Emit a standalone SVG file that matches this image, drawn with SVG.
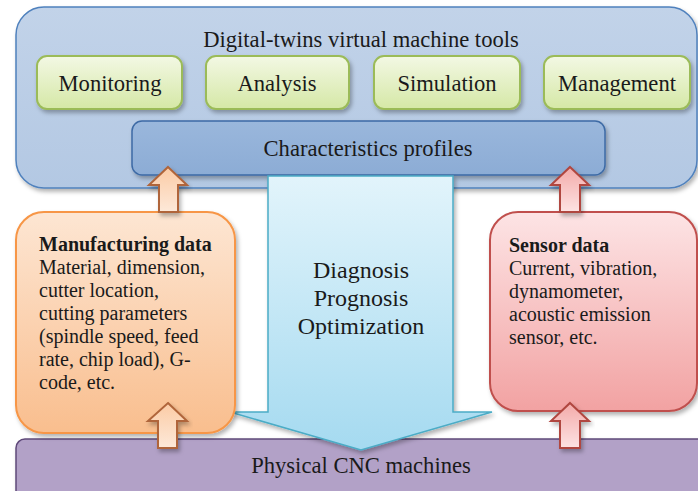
<svg xmlns="http://www.w3.org/2000/svg" width="698" height="491" viewBox="0 0 698 491">
<defs>
<style>
text{font-family:"Liberation Serif","Times New Roman",serif;fill:#1a1a1a}
.t{font-size:22.6px}
.b{font-size:20px}
.bold{font-weight:bold}
.green{fill:url(#gGreen);stroke:#9bbb59;stroke-width:2}
.uparO{fill:url(#gArrO);stroke:#b0653a;stroke-width:2;stroke-linejoin:miter}
.uparR{fill:url(#gArrR);stroke:#b0463f;stroke-width:2;stroke-linejoin:miter}
</style>
<filter id="sh" x="-10%" y="-10%" width="125%" height="130%">
<feDropShadow dx="2" dy="3" stdDeviation="2" flood-color="#000" flood-opacity="0.3"/>
</filter>
<linearGradient id="gTop" x1="0" y1="0" x2="0" y2="1"><stop offset="0" stop-color="#c2d3e9"/><stop offset="1" stop-color="#b3c8e3"/></linearGradient>
<linearGradient id="gGreen" x1="0" y1="0" x2="0" y2="1"><stop offset="0" stop-color="#f3f8e4"/><stop offset="1" stop-color="#d5e8a6"/></linearGradient>
<linearGradient id="gChar" x1="0" y1="0" x2="0" y2="1"><stop offset="0" stop-color="#9ab7dc"/><stop offset="1" stop-color="#8cacd5"/></linearGradient>
<linearGradient id="gBig" x1="0" y1="0" x2="0" y2="1"><stop offset="0" stop-color="#e2f4fb"/><stop offset="1" stop-color="#a5daf0"/></linearGradient>
<linearGradient id="gOr" x1="0" y1="0" x2="0" y2="1"><stop offset="0" stop-color="#fde6d3"/><stop offset="1" stop-color="#f9be8e"/></linearGradient>
<linearGradient id="gRed" x1="0" y1="0" x2="0" y2="1"><stop offset="0" stop-color="#fde4e5"/><stop offset="1" stop-color="#f2a2a2"/></linearGradient>
<linearGradient id="gArrO" x1="0" y1="0" x2="0" y2="1"><stop offset="0" stop-color="#fbcba5"/><stop offset="1" stop-color="#fde9d9"/></linearGradient>
<linearGradient id="gArrR" x1="0" y1="0" x2="0" y2="1"><stop offset="0" stop-color="#f3aaa9"/><stop offset="1" stop-color="#fde3e3"/></linearGradient>
</defs>
<rect width="698" height="491" fill="#ffffff"/>

<g id="purple-bar">
<rect x="16" y="439" width="700" height="70" rx="9" fill="#b2a1c7" stroke="#5f497a" stroke-width="1.5" filter="url(#sh)"/>
<text class="t" x="361" y="473" text-anchor="middle">Physical CNC machines</text>
</g>

<g id="top-container">
<rect x="16" y="7" width="681" height="181" rx="28" fill="url(#gTop)" stroke="#4f81bd" stroke-width="1.5" filter="url(#sh)"/>
<text class="t" x="361" y="47" text-anchor="middle">Digital-twins virtual machine tools</text>
</g>

<g id="monitoring">
<rect class="green" x="37" y="56" width="145" height="53" rx="10" filter="url(#sh)"/>
<text class="t" x="110" y="91" text-anchor="middle">Monitoring</text>
</g>
<g id="analysis">
<rect class="green" x="206" y="56" width="143" height="53" rx="10" filter="url(#sh)"/>
<text class="t" x="277" y="91" text-anchor="middle">Analysis</text>
</g>
<g id="simulation">
<rect class="green" x="374" y="56" width="146" height="53" rx="10" filter="url(#sh)"/>
<text class="t" x="447" y="91" text-anchor="middle">Simulation</text>
</g>
<g id="management">
<rect class="green" x="544" y="56" width="146" height="53" rx="10" filter="url(#sh)"/>
<text class="t" x="617" y="91" text-anchor="middle">Management</text>
</g>

<g id="characteristics">
<rect x="132" y="121" width="473" height="54" rx="10" fill="url(#gChar)" stroke="#3d6aa5" stroke-width="1.5" filter="url(#sh)"/>
<text class="t" x="368" y="156" text-anchor="middle">Characteristics profiles</text>
</g>

<g id="big-arrow">
<path d="M268,176 L453,176 L453,412 L492,412 L361,450 L230,412 L268,412 Z" fill="url(#gBig)" stroke="#4bacc6" stroke-width="1.5" filter="url(#sh)"/>
<text x="361" y="278" font-size="24" text-anchor="middle">Diagnosis</text>
<text x="361" y="306" font-size="24" text-anchor="middle">Prognosis</text>
<text x="361" y="334" font-size="24" text-anchor="middle">Optimization</text>
</g>

<g id="manufacturing-data">
<rect x="16" y="212" width="219" height="221" rx="28" fill="url(#gOr)" stroke="#f79646" stroke-width="2" filter="url(#sh)"/>
<text class="b bold" x="39" y="251">Manufacturing data</text>
<text class="b" x="39" y="274">Material, dimension,</text>
<text class="b" x="39" y="297">cutter location,</text>
<text class="b" x="39" y="320">cutting parameters</text>
<text class="b" x="39" y="343">(spindle speed, feed</text>
<text class="b" x="39" y="366">rate, chip load), G-</text>
<text class="b" x="39" y="389">code, etc.</text>
</g>

<g id="sensor-data">
<rect x="490" y="212" width="207" height="199" rx="28" fill="url(#gRed)" stroke="#c0504d" stroke-width="2" filter="url(#sh)"/>
<text class="b bold" x="509" y="252">Sensor data</text>
<text class="b" x="509" y="275">Current, vibration,</text>
<text class="b" x="509" y="298">dynamometer,</text>
<text class="b" x="509" y="321">acoustic emission</text>
<text class="b" x="509" y="344">sensor, etc.</text>
</g>

<g id="connectors">
<path class="uparO" d="M168,167 L187,185 L178,185 L178,212 L159,212 L159,185 L149,185 Z" filter="url(#sh)"/>
<path class="uparO" d="M168,403 L187,421 L177,421 L177,448 L158,448 L158,421 L148,421 Z" filter="url(#sh)"/>
<path class="uparR" d="M570,167 L589,185 L580,185 L580,212 L560,212 L560,185 L551,185 Z" filter="url(#sh)"/>
<path class="uparR" d="M570,403 L589,421 L580,421 L580,448 L560,448 L560,421 L551,421 Z" filter="url(#sh)"/>
</g>
</svg>
